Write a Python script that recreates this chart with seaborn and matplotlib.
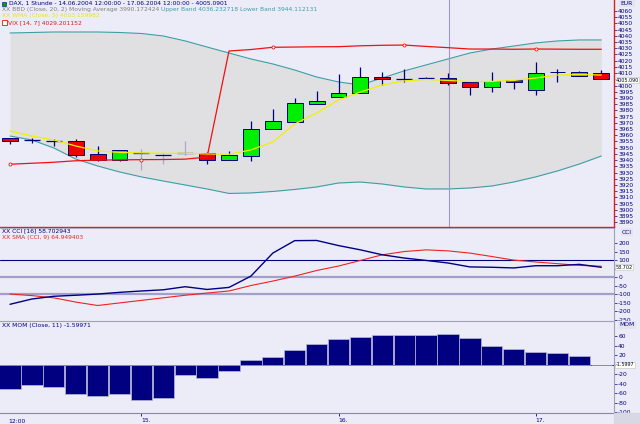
import numpy as np
import pandas as pd
import matplotlib
matplotlib.use("Agg")
import matplotlib.pyplot as plt
import seaborn as sns

# ---------------- data ----------------
idx = list(range(28))
opens = [3957.6, 3956.0, 3955.5, 3955.4, 3944.7, 3940.4, 3945.5, 3944.0, 3945.8, 3946.0,
         3939.9, 3943.6, 3964.8, 3970.5, 3984.9, 3991.0, 3993.8, 4006.9, 4005.3, 4005.8,
         4005.8, 4002.6, 3998.9, 4004.5, 3996.4, 4010.6, 4007.7, 4010.4]
highs = [3958.0, 3958.0, 3957.0, 3957.0, 3951.6, 3948.2, 3949.0, 3946.0, 3955.7, 3946.8,
         3947.4, 3971.3, 3981.0, 3989.8, 3995.6, 4009.3, 4015.2, 4010.7, 4013.0, 4007.0,
         4009.9, 4002.6, 4010.7, 4004.5, 4018.7, 4013.0, 4012.0, 4012.5]
lows = [3953.0, 3953.5, 3951.0, 3942.3, 3939.3, 3939.3, 3932.0, 3937.0, 3944.0, 3937.0,
        3939.9, 3939.6, 3964.8, 3970.5, 3984.9, 3991.0, 3993.8, 4000.5, 4003.0, 4005.0,
        4000.5, 3992.4, 3995.1, 3997.2, 3992.4, 4002.6, 4007.7, 4005.09]
closes = [3955.7, 3956.0, 3955.5, 3944.2, 3940.4, 3948.2, 3945.5, 3944.0, 3945.8, 3939.9,
          3944.1, 3965.0, 3971.5, 3985.7, 3987.6, 3994.3, 4006.9, 4005.0, 4005.3, 4005.8,
          4001.8, 3999.1, 4004.0, 4002.9, 4010.1, 4011.2, 4011.0, 4005.09]
faded = [6, 7, 8]

bb_upper = [4042.3, 4042.7, 4043.1, 4043.1, 4043.1, 4042.7, 4041.9, 4039.9, 4035.9, 4031.0,
            4026.2, 4021.4, 4017.4, 4012.5, 4006.9, 4002.9, 4000.5, 4006.1, 4011.8, 4016.6,
            4021.4, 4026.2, 4029.4, 4031.8, 4034.3, 4035.9, 4036.7, 4036.7]
bb_lower = [3959.4, 3956.2, 3949.8, 3940.9, 3935.3, 3930.5, 3926.5, 3923.2, 3920.0, 3916.8,
            3913.2, 3913.6, 3914.8, 3916.4, 3918.4, 3921.6, 3922.4, 3920.8, 3918.4, 3916.8,
            3916.8, 3917.6, 3919.2, 3922.4, 3926.5, 3931.3, 3936.9, 3943.3]
wma5 = [3963.5, 3959.4, 3956.2, 3951.4, 3947.4, 3946.2, 3945.8, 3945.5, 3945.5, 3945.0,
        3944.7, 3948.2, 3954.6, 3969.1, 3977.9, 3988.4, 3994.8, 4000.5, 4003.7, 4004.9,
        4004.1, 4003.3, 4003.3, 4004.1, 4006.1, 4008.5, 4008.9, 4008.5]
vix = [3936.7, 3937.5, 3938.3, 3939.5, 3940.0, 3940.2, 3940.4, 3940.5, 3940.8, 3942.5,
       4027.8, 4029.0, 4030.8, 4031.0, 4031.2, 4031.3, 4032.0, 4032.4, 4032.6, 4031.5,
       4030.5, 4029.4, 4029.4, 4029.2, 4029.4, 4029.3, 4029.2, 4029.2]

cci = [-158, -127, -111, -105, -98, -88, -80, -73, -55, -71,
       -59, 7, 142, 215, 216, 186, 161, 132, 113, 99,
       84, 61, 59, 55, 68, 68, 76, 58.7]
cci_sma = [-98, -107, -120, -145, -165, -150, -135, -120, -105, -92,
           -80, -48, -22, 7, 40, 66, 99, 132, 151, 161,
           155, 142, 122, 101, 90, 80, 70, 65]
mom = [-51, -43, -48, -61, -67, -62, -74, -71, -22, -29,
       -14, 10, 16, 31, 43, 54, 59, 62, 62, 62,
       64, 56, 40, 33, 26, 24, 18, -1.6]

day_ticks = [6, 15, 24]
day_labels = ["15.", "16.", "17."]
price_ticks = list(range(3890, 4061, 5))
cci_ticks = [200, 150, 100, 50, 0, -50, -100, -150, -200, -250]
mom_ticks = [60, 40, 20, 0, -20, -40, -60, -80, -100]
last_price_label = "4005.090"
last_cci_label = "58.702"
last_mom_label = "-1.5997"

# ---------------- style ----------------
sns.set_theme(style="white")
plt.rcParams["font.family"] = ["DejaVu Sans"]
NAVY = "#000080"
BG = "#ececf8"
TEAL = "#3c9ea6"
W, H = 640, 424

fig = plt.figure(figsize=(6.4, 4.24), dpi=100, facecolor=BG)


def box(top, bottom):
    return [0, (H - bottom) / H, 614 / W, (bottom - top) / H]


XL = (-0.457, 27.58)
FS = 4.3

ax1 = fig.add_axes(box(0, 227))
ax2 = fig.add_axes(box(228, 320))
ax3 = fig.add_axes(box(321, 413))

for ax in (ax1, ax2, ax3):
    ax.set_facecolor(BG)
    ax.set_xlim(*XL)
    ax.yaxis.tick_right()
    ax.tick_params(axis="y", which="both", right=True, left=False, length=2, width=0.5,
                   pad=1, labelsize=FS, colors=NAVY, direction="out")
    for s in ax.spines.values():
        s.set_visible(False)
    ax.spines["right"].set_visible(True)
    ax.spines["right"].set_color("#a0a0b8")
    ax.spines["right"].set_linewidth(0.8)


def labels_without(ticks, hidden):
    return ["" if t == hidden else str(t) for t in ticks]


# ---------------- main price panel ----------------
df = pd.DataFrame({"i": idx, "open": opens, "high": highs, "low": lows, "close": closes,
                   "up": bb_upper, "lo": bb_lower, "wma": wma5, "vix": vix})

ax1.fill_between(df["i"], df["lo"], df["up"], color="#e0e0e2", zorder=1, lw=0)
sns.lineplot(data=df, x="i", y="up", ax=ax1, color=TEAL, lw=0.8, zorder=2)
sns.lineplot(data=df, x="i", y="lo", ax=ax1, color=TEAL, lw=0.8, zorder=2)
ax1.axvline(20.05, color="#9a9ac4", lw=0.8, zorder=2)

bw = 0.73
for k in idx:
    o, h, l, c = opens[k], highs[k], lows[k], closes[k]
    wc = "#a8a8d0" if k in faded else NAVY
    ax1.vlines(k, l, h, color=wc, lw=0.9, zorder=4)
    if abs(o - c) < 0.05:
        ax1.hlines(o, k - bw / 2, k + bw / 2, color=NAVY, lw=0.9, zorder=5)
    else:
        col = "#00ee00" if c > o else "#ee0000"
        ax1.bar(k, abs(c - o), bottom=min(o, c), width=bw, color=col, edgecolor=NAVY,
                linewidth=0.7, zorder=5)

sns.lineplot(data=df, x="i", y="vix", ax=ax1, color="#ee1111", lw=0.9, zorder=6,
             marker="o", markevery=6, markersize=2.2, markerfacecolor="white",
             markeredgecolor="#ee1111", markeredgewidth=0.6)
sns.lineplot(data=df, x="i", y="wma", ax=ax1, color="#f0f000", lw=0.9, zorder=7)

ax1.set_ylim(3886.2, 4068.85)
ax1.set_xlim(*XL)
ax1.set_yticks(price_ticks)
ax1.set_yticklabels(labels_without(price_ticks, 4005))
ax1.set_xticks([])
ax1.set_xlabel("")
ax1.set_ylabel("")
ax1.spines["right"].set_color("#e02020")
ax1.spines["bottom"].set_visible(True)
ax1.spines["bottom"].set_color("#e02020")
ax1.spines["bottom"].set_linewidth(1.0)
ax1.spines["right"].set_linewidth(1.0)

# ---------------- CCI panel ----------------
dc = pd.DataFrame({"i": idx, "cci": cci, "sma": cci_sma})
ax2.axhline(100, color=NAVY, lw=0.8, zorder=1)
ax2.axhline(0, color="#a0a0c8", lw=1.6, zorder=1)
ax2.axhline(-100, color="#a0a0c8", lw=1.6, zorder=1)
sns.lineplot(data=dc, x="i", y="sma", ax=ax2, color="#ee2222", lw=0.8, zorder=3)
sns.lineplot(data=dc, x="i", y="cci", ax=ax2, color=NAVY, lw=1.0, zorder=4)
ax2.set_ylim(-246, 289)
ax2.set_xlim(*XL)
ax2.set_yticks(cci_ticks)
ax2.set_yticklabels(labels_without(cci_ticks, 50))
ax2.set_xticks([])
ax2.set_xlabel("")
ax2.set_ylabel("")
ax2.spines["top"].set_visible(True)
ax2.spines["top"].set_color("#a0a0b8")
ax2.spines["top"].set_linewidth(0.6)

# ---------------- MOM panel ----------------
dm = pd.DataFrame({"i": idx, "mom": mom})
sns.barplot(data=dm, x="i", y="mom", ax=ax3, native_scale=True, width=0.97,
            color=NAVY, saturation=1, edgecolor="#b8b8d4", linewidth=0.5, zorder=3)
ax3.axhline(0, color=NAVY, lw=0.6, zorder=2)
ax3.set_ylim(-101.7, 91.6)
ax3.set_xlim(*XL)
ax3.set_yticks(mom_ticks)
ax3.set_yticklabels(labels_without(mom_ticks, 0))
ax3.set_xlabel("")
ax3.set_ylabel("")
ax3.spines["top"].set_visible(True)
ax3.spines["top"].set_color("#a0a0b8")
ax3.spines["top"].set_linewidth(0.8)
ax3.spines["bottom"].set_visible(True)
ax3.spines["bottom"].set_color("#8888a0")
ax3.spines["bottom"].set_linewidth(0.8)
ax3.set_xticks(day_ticks)
ax3.set_xticklabels(day_labels, ha="left")
ax3.tick_params(axis="x", bottom=True, length=2, width=0.6, pad=1.5, labelsize=FS,
                colors=NAVY, direction="out")
ax3.text(-0.1, -0.06, "12:00", transform=ax3.get_xaxis_transform(), fontsize=FS,
         color=NAVY, ha="left", va="top")


# ---------------- texts ----------------
def ftxt(x, y, s, color, **kw):
    fig.text(x / W, 1 - y / H, s, color=color, fontsize=kw.pop("fs", FS),
             ha=kw.pop("ha", "left"), va="center", **kw)


fig.patches.append(plt.Rectangle((2 / W, 1 - 5.5 / H), 3.5 / W, 3.5 / H,
                                 transform=fig.transFigure, color="#00a000",
                                 ec=NAVY, lw=0.4))
ftxt(9, 3.4, "DAX, 1 Stunde - 14.06.2004 12:00:00 - 17.06.2004 12:00:00 - 4005.0901", NAVY)
t = fig.text(2 / W, 1 - 9.4 / H, "XX BBD (Close, 20, 2) Moving Average 3990.172424 ",
             color="#808080", fontsize=FS, va="center", ha="left")
fig.canvas.draw()
bb = t.get_window_extent()
fig.text(bb.x1 / W, 1 - 9.4 / H, "Upper Band 4036.232718 Lower Band 3944.112131",
         color=TEAL, fontsize=FS, va="center", ha="left")
ftxt(2, 15.5, "XX WMA (Close, 5) 4003.159982", "#e8e800")
fig.patches.append(plt.Rectangle((2 / W, 1 - 25 / H), 5 / W, 5 / H,
                                 transform=fig.transFigure, fc="white",
                                 ec="#ee1111", lw=0.6))
ftxt(8, 22.4, "VIX [14, 7] 4029.201152", "#ee1111")

ftxt(2, 230.8, "XX CCI [16] 58.702943", NAVY)
ftxt(2, 237.8, "XX SMA (CCI, 9) 64.949403", "#ee2222")
ftxt(2, 325, "XX MOM (Close, 11) -1.59971", NAVY)

# right-axis headers and value boxes
for y, s in [(3.5, "EUR"), (232, "CCI"), (325, "MOM")]:
    ftxt(627, y, s, NAVY, ha="center",
         bbox=dict(boxstyle="square,pad=0.25", fc="#e4e4f0", ec="none"))
for y, s in [(80, last_price_label), (267.3, last_cci_label), (364.6, last_mom_label)]:
    ftxt(615.6, y, s, "#000040", fs=3.5,
         bbox=dict(boxstyle="square,pad=0.12", fc="#fffff0", ec="#c0c0c0", lw=0.4))

# bottom strip
fig.patches.append(plt.Rectangle((614 / W, 0), 26 / W, 11 / H, transform=fig.transFigure,
                                 color="#d8d8e4", zorder=0))

fig.savefig("out.png", dpi=100, facecolor=BG)
